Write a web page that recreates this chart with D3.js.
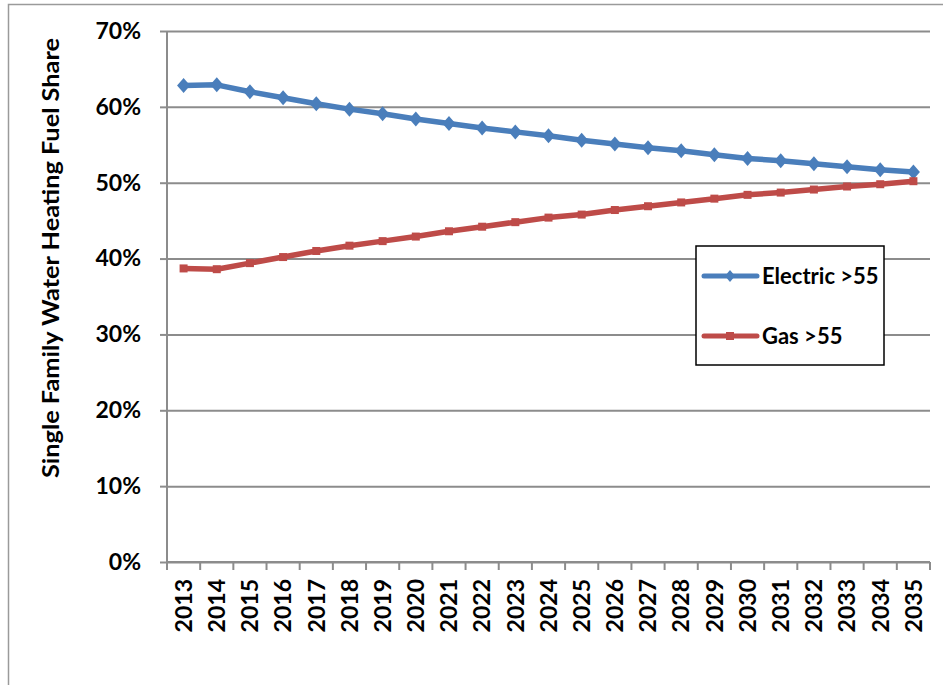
<!DOCTYPE html>
<html>
<head>
<meta charset="utf-8">
<script src="https://cdn.jsdelivr.net/npm/d3@7/dist/d3.min.js"></script>
<style>
  html, body { margin: 0; padding: 0; background: #fff; }
  svg { display: block; }
  text { font-family: Lato, "Open Sans", sans-serif; font-weight: bold; fill: #000; }
</style>
</head>
<body>
<svg id="chart" width="943" height="685"></svg>
<script>
const years = ["2013","2014","2015","2016","2017","2018","2019","2020","2021","2022","2023","2024",
               "2025","2026","2027","2028","2029","2030","2031","2032","2033","2034","2035"];
const electric = [0.628,0.629,0.620,0.612,0.604,0.597,0.591,0.584,0.578,0.572,0.567,0.562,
                  0.556,0.551,0.546,0.542,0.537,0.532,0.529,0.525,0.521,0.517,0.514];
const gas = [0.387,0.386,0.394,0.402,0.410,0.417,0.423,0.429,0.436,0.442,0.448,0.454,
             0.458,0.464,0.469,0.474,0.479,0.484,0.487,0.491,0.495,0.498,0.502];
const yTicks = [0,0.1,0.2,0.3,0.4,0.5,0.6,0.7];
const seriesNames = ["Electric >55","Gas >55"];
const seriesColors = ["#4a7ebb","#be4b48"];
const yTitle = "Single Family Water Heating Fuel Share";

(function () {
const svg = d3.select("#chart");
const pLeft = 167, pRight = 930, pTop = 31, pBottom = 562;
const gridColor = "#8c8c8c";

// outer chart border (top & left visible)
svg.append("rect").attr("x", 8.5).attr("y", 4.5).attr("width", 1200).attr("height", 1200)
  .attr("fill", "none").attr("stroke", "#9a9a9a").attr("stroke-width", 1.5);

const x = d3.scaleBand().domain(years).range([pLeft, pRight]).padding(0);
const y = d3.scaleLinear().domain([0, 0.7]).range([pBottom, pTop]);
const cx = d => x(d) + x.bandwidth() / 2;

// gridlines
svg.append("g").attr("transform", `translate(${pLeft},0)`)
  .call(d3.axisLeft(y).tickValues(yTicks).tickSize(-(pRight - pLeft)).tickFormat(""))
  .call(g => g.select(".domain").remove())
  .call(g => g.selectAll("line").attr("stroke", gridColor).attr("stroke-width", 2));

// y axis
svg.append("g").attr("transform", `translate(${pLeft},0)`)
  .call(d3.axisLeft(y).tickValues(yTicks).tickSize(7).tickPadding(19).tickFormat(d3.format(".0%")))
  .call(g => g.select(".domain").attr("stroke", gridColor).attr("stroke-width", 2).attr("d", `M0,${pTop}V${pBottom}`))
  .call(g => g.selectAll("line").attr("stroke", gridColor).attr("stroke-width", 2))
  .call(g => g.selectAll("text").style("font-size", "23px").style("font-family", "Lato").style("font-weight", "bold").attr("fill", "#000"));

// x axis
const xg = svg.append("g").attr("transform", `translate(0,${pBottom})`)
  .call(d3.axisBottom(x).tickSize(0).tickPadding(0))
  .call(g => g.select(".domain").attr("stroke", gridColor).attr("stroke-width", 2).attr("d", `M${pLeft},0H${pRight}`));
xg.selectAll(".tick text")
  .style("font-size", "23px").style("font-family", "Lato").style("font-weight", "bold").attr("fill", "#000")
  .attr("transform", "rotate(-90)")
  .attr("text-anchor", "end")
  .attr("x", -17).attr("y", 0).attr("dy", "0.36em");
const bounds = years.map(d => x(d)).concat([x(years[years.length - 1]) + x.bandwidth()]);
xg.selectAll("line.bt").data(bounds).join("line").attr("class", "bt")
  .attr("x1", d => d).attr("x2", d => d).attr("y1", 0).attr("y2", 8)
  .attr("stroke", gridColor).attr("stroke-width", 2);

// y title
svg.append("text")
  .attr("transform", `translate(59,${(38 + 478) / 2}) rotate(-90)`)
  .attr("text-anchor", "middle")
  .attr("textLength", 440).attr("lengthAdjust", "spacingAndGlyphs")
  .style("font-size", "23px")
  .text(yTitle);

// lines
const line = d3.line().x((d, i) => cx(years[i])).y(d => y(d));
const data = [electric, gas];
data.forEach((vals, si) => {
  svg.append("path").datum(vals).attr("d", line)
    .attr("fill", "none").attr("stroke", seriesColors[si]).attr("stroke-width", 5.5)
    .attr("stroke-linejoin", "round").attr("stroke-linecap", "round");
});
// markers
svg.append("g").selectAll("path").data(electric).join("path")
  .attr("d", "M0,-7.5L6.5,0L0,7.5L-6.5,0Z")
  .attr("transform", (d, i) => `translate(${cx(years[i])},${y(d)})`)
  .attr("fill", seriesColors[0]);
svg.append("g").selectAll("rect").data(gas).join("rect")
  .attr("x", (d, i) => cx(years[i]) - 4).attr("y", d => y(d) - 4)
  .attr("width", 8).attr("height", 8)
  .attr("fill", seriesColors[1]);

// legend
const lg = svg.append("g");
lg.append("rect").attr("x", 696).attr("y", 246).attr("width", 188).attr("height", 119)
  .attr("fill", "#fff").attr("stroke", "#000").attr("stroke-width", 1.5);
const legY = [276, 336];
seriesNames.forEach((name, i) => {
  lg.append("line").attr("x1", 704).attr("x2", 757).attr("y1", legY[i]).attr("y2", legY[i])
    .attr("stroke", seriesColors[i]).attr("stroke-width", 5).attr("stroke-linecap", "round");
  if (i === 0) {
    lg.append("path").attr("d", "M0,-6L5,0L0,6L-5,0Z").attr("transform", `translate(730,${legY[i]})`).attr("fill", seriesColors[i]);
  } else {
    lg.append("rect").attr("x", 726).attr("y", legY[i] - 4).attr("width", 8).attr("height", 8).attr("fill", seriesColors[i]);
  }
  lg.append("text").attr("x", 762).attr("y", legY[i]).attr("dy", "0.36em")
    .style("font-size", "22px").text(name);
});
})();
</script>
</body>
</html>
